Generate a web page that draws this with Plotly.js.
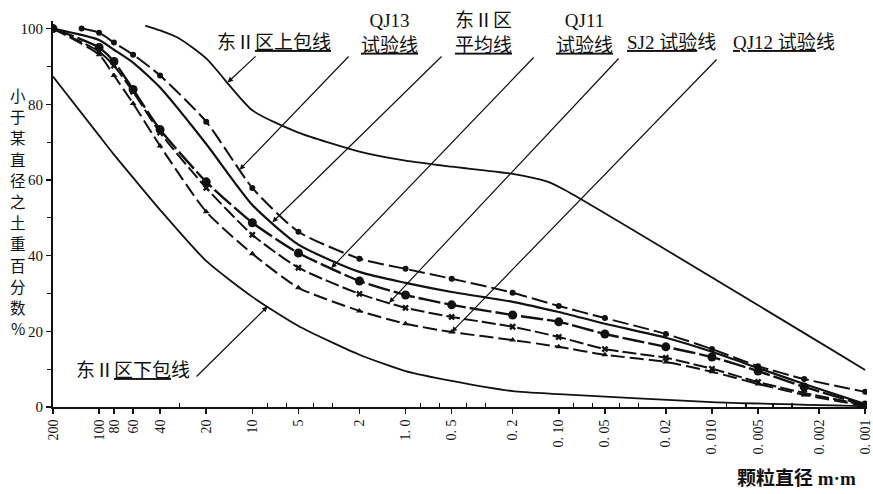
<!DOCTYPE html>
<html><head><meta charset="utf-8">
<script src="https://cdn.plot.ly/plotly-3.0.1.min.js"></script>
<style>html,body{margin:0;padding:0;background:#fff}#chart{width:873px;height:494px}</style>
</head><body><div id="chart"></div>
<script>
// ---- data (grain diameter in mm, percent finer) ----
const diameters = [200,100,80,60,40,20,10,5,2,1,0.5,0.2,0.1,0.05,0.02,0.01,0.005,0.0025,0.001];
const qj13Diam  = [130,100,80,60,40,20,10,5,2,1,0.5,0.2,0.1,0.05,0.02,0.01,0.005,0.0025,0.001];
const qj13      = [100,98.9,96.3,93.1,87.6,75.4,57.9,46.3,39.2,36.5,33.9,30.2,26.7,23.5,19.3,15.3,10.8,7.4,4.0];
const avgLine   = [100,97,94.4,91,84.4,69.5,53.4,42.9,35.7,32.8,30.4,27.8,25.1,22,18.3,14.6,10.3,6.1,0.8];
const qj11      = [100,95,91.3,83.9,73.3,59.5,48.7,40.7,33.3,29.6,27,24.3,22.5,19.3,15.9,13.2,9.5,5.3,0.5];
const sj2       = [100,93.9,90.2,83.3,72.5,57.9,45.5,36.8,29.9,26.2,23.8,21.2,18.5,15.3,13,10.1,6.6,3.7,0.5];
const qj12      = [100,93.1,87.6,80.2,69,51.6,40.5,31.5,25.4,22,19.8,17.7,15.9,13.8,11.9,9.3,6.1,3.2,0.3];
const upperDiam = [50,40,30,20,10,5,2,1,0.5,0.2,0.12,0.09,0.001];
const upperEnv  = [100.8,99.5,97.4,92.1,78.4,72.5,67.5,65.1,63.5,61.6,59.6,57.2,9.8];
const lowerDiam = [200,100,80,60,40,20,10,5,2,1,0.5,0.2,0.1,0.01,0.001];
const lowerEnv  = [87.3,71.7,66.7,60.6,52.1,38.6,29.1,21.4,13.8,9.5,6.9,4.2,3.4,1.3,0.2];

const xTickVals = [200,100,80,60,40,20,10,5,2,1,0.5,0.2,0.1,0.05,0.02,0.01,0.005,0.002,0.001];
const xTickText = ['200','100','80','60','40','20','10','5','2','1. 0','0. 5','0. 2','0. 10','0. 05','0. 02','0. 010','0. 005','0. 002','0. 001'];
const xMinorVals = [30,8,6,4,3,0.8,0.6,0.4,0.3,0.08,0.06,0.04,0.03,0.008,0.006,0.004,0.003];
const yTickVals = [0,20,40,60,80,100];
const yTickText = ['0','20','40','60','80','100'];
const yMinorVals = [10,30,50,70,90];
const yTitleChars = ['小','于','某','直','径','之','土','重','百','分','数','%'];

// ---- geometry ----
const W=873,H=494, ML=53, MT=21, MB=87, YMAX=102;
const LMAX=Math.log10(200), LMIN=-3.012;
const XW = 812*(LMAX-LMIN)/(LMAX+3);   // 0.001 lands at x=865
const MR = W-ML-XW, YH=H-MT-MB;
const pxOfD = d => ML + (LMAX-Math.log10(d))/(LMAX-LMIN)*XW;
const pyOfV = v => MT + (YMAX-v)/YMAX*YH;
const paperX = px => (px-ML)/XW;
const paperY = py => (H-MB-py)/YH;
function interp(ds, vs, d){
  const l=Math.log10(d);
  for(let i=0;i<ds.length-1;i++){
    const a=Math.log10(ds[i]), b=Math.log10(ds[i+1]);
    if(l<=a && l>=b){return vs[i]+(vs[i+1]-vs[i])*(a-l)/(a-b);}
  }
  return vs[vs.length-1];
}

const K='#111';
const serif='"Liberation Serif","Noto Sans CJK SC",serif';
const cjk='"Noto Sans CJK SC","Liberation Serif",sans-serif';

const traces = [
  {x:upperDiam,y:upperEnv,mode:'lines',line:{color:K,width:1.8,shape:'spline',smoothing:0.6}},
  {x:lowerDiam,y:lowerEnv,mode:'lines',line:{color:K,width:1.8,shape:'spline',smoothing:0.6}},
  {x:qj13Diam,y:qj13,mode:'lines+markers',line:{color:K,width:2,dash:'16px,5px',shape:'spline',smoothing:0.6},marker:{symbol:'circle',size:6,color:K}},
  {x:diameters,y:avgLine,mode:'lines',line:{color:K,width:2.2,shape:'spline',smoothing:0.6}},
  {x:diameters,y:qj11,mode:'lines+markers',line:{color:K,width:2.4,dash:'22px,4px',shape:'spline',smoothing:0.6},marker:{symbol:'circle',size:9,color:K}},
  {x:diameters,y:sj2,mode:'lines+markers',line:{color:K,width:2,dash:'14px,4px',shape:'spline',smoothing:0.6},marker:{symbol:'x',size:6,color:K}},
  {x:diameters,y:qj12,mode:'lines+markers',line:{color:K,width:2,dash:'14px,5px',shape:'spline',smoothing:0.6},marker:{symbol:'triangle-up',size:6,color:K}}
];

// labels: text, centre pixel, leader target (series, diameter), leader tail pixel
const labels = [
  {text:'东Ⅱ<u>区上包线</u>', cx:274, cy:43, ds:upperDiam, vs:upperEnv, d:14.5, tx:257, ty:55},
  {text:'QJ13<br><u>试验线</u>', cx:389, cy:33, ds:qj13Diam, vs:qj13, d:12.1, tx:350, ty:55},
  {text:'东Ⅱ区<br><u>平均线</u>', cx:483, cy:33, ds:diameters, vs:avgLine, d:7.4, tx:443, ty:55},
  {text:'QJ11<br><u>试验线</u>', cx:584, cy:33, ds:diameters, vs:qj11, d:3.05, tx:535, ty:56},
  {text:'<u>SJ2 试验</u>线', cx:671, cy:43, ds:diameters, vs:sj2, d:1.28, tx:620, ty:57},
  {text:'<u>QJ12 试验</u>线', cx:784, cy:43, ds:diameters, vs:qj12, d:0.5, tx:718, ty:58},
  {text:'东Ⅱ<u>区下包</u>线', cx:133, cy:370, ds:lowerDiam, vs:lowerEnv, d:7.96, tx:195, ty:378}
];

const annotations = [];
labels.forEach(L=>{
  annotations.push({xref:'paper',yref:'paper',x:paperX(L.cx),y:paperY(L.cy),xanchor:'center',yanchor:'middle',
    text:L.text,showarrow:false,font:{family:serif,size:19,color:K}});
  const v=interp(L.ds,L.vs,L.d);
  annotations.push({xref:'x',yref:'y',x:Math.log10(L.d),y:v,text:'',showarrow:true,
    ax:L.tx-pxOfD(L.d), ay:L.ty-pyOfV(v), arrowhead:2, arrowsize:0.9, arrowwidth:1.2, arrowcolor:K, standoff:0});
});
yTitleChars.forEach((c,i)=>{
  annotations.push({xref:'paper',yref:'paper',x:paperX(18),y:paperY(95+i*21.2),xanchor:'center',yanchor:'middle',
    text:c,showarrow:false,font:{family:cjk,size:15.5,color:K},borderpad:0});
});
annotations.push({xref:'paper',yref:'paper',x:paperX(796),y:paperY(478),xanchor:'center',yanchor:'middle',
  text:'<b>颗粒直径 m·m</b>',showarrow:false,font:{family:serif,size:19,color:K}});

const layout = {
  width:W,height:H,margin:{l:ML,r:MR,t:MT,b:MB,pad:0},paper_bgcolor:'#fff',plot_bgcolor:'#fff',showlegend:false,
  xaxis:{type:'log',range:[LMAX,LMIN],tickmode:'array',tickvals:xTickVals,ticktext:xTickText,tickangle:-90,
    ticklabeloverflow:'allow',
    ticks:'outside',ticklen:5,tickwidth:1.5,tickcolor:K,showline:true,linewidth:2,linecolor:K,showgrid:false,zeroline:false,
    tickfont:{family:serif,size:14,color:K},automargin:false,
    minor:{tickmode:'array',tickvals:xMinorVals,ticks:'inside',ticklen:4,tickwidth:1.2,tickcolor:K,showgrid:false}},
  yaxis:{range:[0,YMAX],tickmode:'array',tickvals:yTickVals,ticktext:yTickText,ticks:'outside',ticklen:5,tickwidth:1.5,tickcolor:K,
    showline:true,linewidth:2,linecolor:K,showgrid:false,zeroline:false,tickfont:{family:serif,size:15,color:K},automargin:false,
    minor:{tickmode:'array',tickvals:yMinorVals,ticks:'outside',ticklen:4,tickwidth:1.2,tickcolor:K,showgrid:false}},
  annotations:annotations
};
Plotly.newPlot('chart',traces,layout,{displayModeBar:false,staticPlot:true});
</script></body></html>
